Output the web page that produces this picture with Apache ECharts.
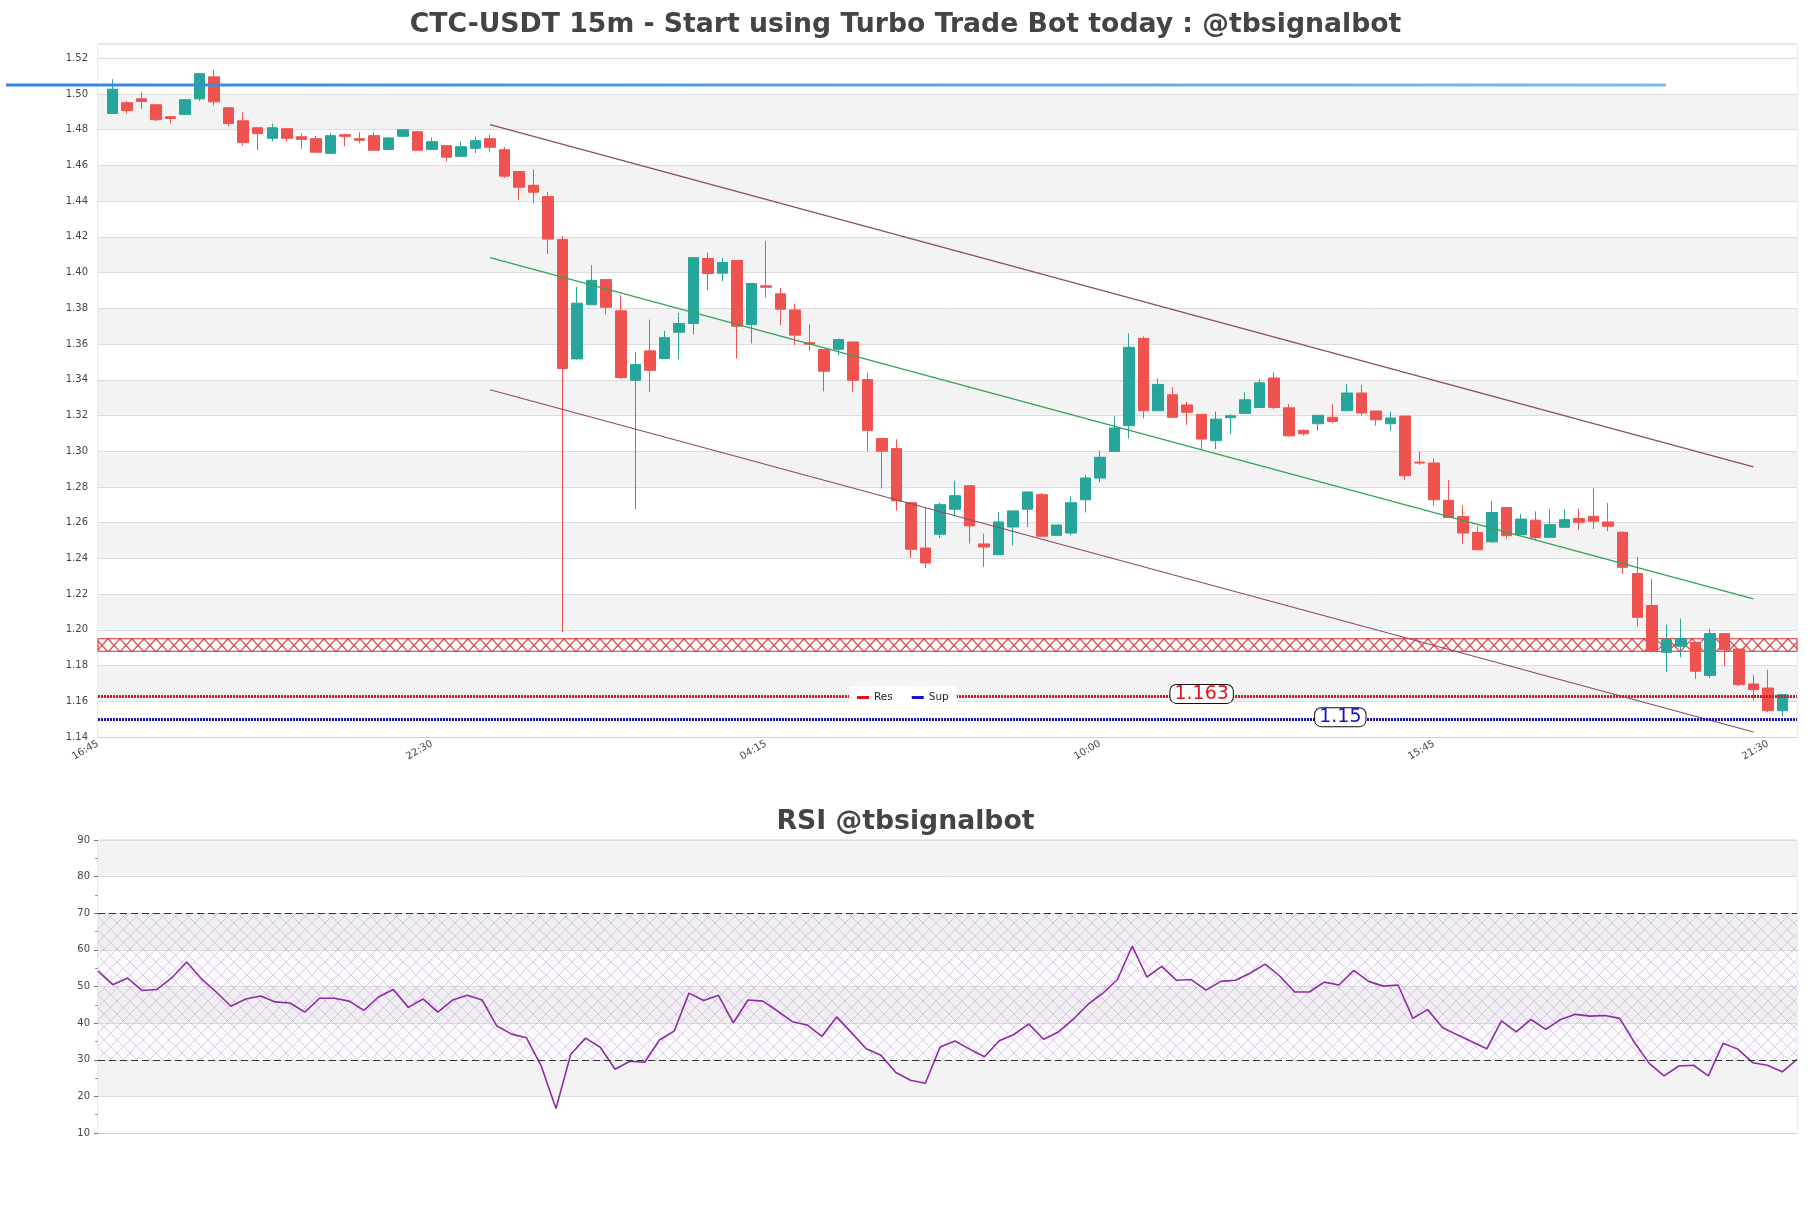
<!DOCTYPE html>
<html>
<head>
<meta charset="utf-8">
<title>CTC-USDT 15m</title>
<script src="https://cdn.jsdelivr.net/npm/echarts@6/dist/echarts.min.js"></script>
<style>
    html, body { margin: 0; padding: 0; background: #fff; }
    #chart { width: 1811px; height: 1208px; }
</style>
</head>
<body>
<div id="chart"></div>
<script>
var titleText = 'CTC-USDT 15m - Start using Turbo Trade Bot today : @tbsignalbot';
var rsiTitleText = 'RSI @tbsignalbot';

// price axis: 15m slots starting 16:45, candles sit on slots 1..116
var startTime = '16:45';
var slotCount = 118;

var opens = [1.4891, 1.4951, 1.4973, 1.4940, 1.4873, 1.4886, 1.4973, 1.5096, 1.4923, 1.4850,
    1.4811, 1.4752, 1.4806, 1.4761, 1.4750, 1.4668, 1.4772, 1.4750, 1.4767, 1.4690,
    1.4763, 1.4789, 1.4690, 1.4711, 1.4651, 1.4696, 1.4750, 1.4688, 1.4566, 1.4489,
    1.4426, 1.4186, 1.3517, 1.3820, 1.3961, 1.3786, 1.3397, 1.3562, 1.3519, 1.3666,
    1.3715, 1.4079, 1.3997, 1.4068, 1.3709, 1.3926, 1.3881, 1.3791, 1.3608, 1.3569,
    1.3571, 1.3612, 1.3401, 1.3071, 1.3015, 1.2712, 1.2458, 1.2535, 1.2675, 1.2807,
    1.2481, 1.2421, 1.2576, 1.2675, 1.2757, 1.2529, 1.2542, 1.2728, 1.2850, 1.2999,
    1.3143, 1.3632, 1.3227, 1.3316, 1.3259, 1.3206, 1.3059, 1.3188, 1.3212, 1.3245,
    1.3410, 1.3243, 1.3117, 1.3154, 1.3190, 1.3227, 1.3326, 1.3225, 1.3154, 1.3197,
    1.2939, 1.2934, 1.2725, 1.2635, 1.2545, 1.2493, 1.2685, 1.2534, 1.2614, 1.2518,
    1.2574, 1.2623, 1.2636, 1.2604, 1.2546, 1.2315, 1.2136, 1.1874, 1.1908, 1.1930,
    1.1745, 1.1979, 1.1893, 1.1697, 1.1674, 1.1547];
var closes = [1.5027, 1.4908, 1.4958, 1.4856, 1.4863, 1.4968, 1.5114, 1.4956, 1.4835, 1.4729,
    1.4778, 1.4811, 1.4752, 1.4746, 1.4674, 1.4767, 1.4763, 1.4741, 1.4685, 1.4754,
    1.4800, 1.4685, 1.4733, 1.4646, 1.4705, 1.4739, 1.4702, 1.4540, 1.4478, 1.4450,
    1.4188, 1.3463, 1.3829, 1.3957, 1.3806, 1.3412, 1.3485, 1.3453, 1.3636, 1.3715,
    1.4084, 1.3995, 1.4057, 1.3700, 1.3939, 1.3918, 1.3795, 1.3650, 1.3599, 1.3448,
    1.3625, 1.3397, 1.3117, 1.3000, 1.2722, 1.2451, 1.2374, 1.2701, 1.2751, 1.2582,
    1.2464, 1.2604, 1.2666, 1.2772, 1.2524, 1.2587, 1.2712, 1.2850, 1.2966, 1.3130,
    1.3582, 1.3227, 1.3374, 1.3190, 1.3218, 1.3068, 1.3180, 1.3199, 1.3288, 1.3383,
    1.3245, 1.3086, 1.3098, 1.3201, 1.3167, 1.3326, 1.3214, 1.3176, 1.3186, 1.2863,
    1.2934, 1.2728, 1.2628, 1.2542, 1.2448, 1.2657, 1.2527, 1.2620, 1.2516, 1.2589,
    1.2617, 1.2602, 1.2608, 1.2580, 1.2350, 1.2070, 1.1880, 1.1945, 1.1951, 1.1768,
    1.1979, 1.1889, 1.1693, 1.1665, 1.1547, 1.1637];
var lows = [1.4891, 1.4891, 1.4917, 1.4847, 1.4835, 1.4886, 1.4962, 1.4936, 1.4819, 1.4711,
    1.4685, 1.4735, 1.4735, 1.4692, 1.4674, 1.4664, 1.4707, 1.4724, 1.4685, 1.4690,
    1.4757, 1.4685, 1.4685, 1.4623, 1.4651, 1.4668, 1.4679, 1.4530, 1.4406, 1.4389,
    1.4104, 1.1987, 1.3513, 1.3820, 1.3767, 1.3405, 1.2675, 1.3332, 1.3519, 1.3515,
    1.3653, 1.3902, 1.3952, 1.3519, 1.3603, 1.3860, 1.3705, 1.3593, 1.3560, 1.3335,
    1.3537, 1.3332, 1.3000, 1.2791, 1.2669, 1.2402, 1.2346, 1.2514, 1.2641, 1.2483,
    1.2352, 1.2417, 1.2473, 1.2576, 1.2524, 1.2529, 1.2529, 1.2657, 1.2825, 1.2999,
    1.3072, 1.3184, 1.3227, 1.3190, 1.3148, 1.3012, 1.3012, 1.3098, 1.3212, 1.3245,
    1.3235, 1.3083, 1.3087, 1.3115, 1.3158, 1.3227, 1.3199, 1.3143, 1.3115, 1.2840,
    1.2924, 1.2695, 1.2628, 1.2480, 1.2448, 1.2486, 1.2512, 1.2534, 1.2504, 1.2515,
    1.2574, 1.2559, 1.2565, 1.2552, 1.2313, 1.2020, 1.1874, 1.1762, 1.1846, 1.1725,
    1.1730, 1.1796, 1.1687, 1.1605, 1.1538, 1.1516];
var highs = [1.5083, 1.4962, 1.5010, 1.4940, 1.4873, 1.4968, 1.5118, 1.5135, 1.4923, 1.4897,
    1.4811, 1.4834, 1.4811, 1.4778, 1.4765, 1.4783, 1.4778, 1.4785, 1.4785, 1.4759,
    1.4800, 1.4789, 1.4757, 1.4711, 1.4733, 1.4761, 1.4772, 1.4703, 1.4566, 1.4577,
    1.4452, 1.4205, 1.3920, 1.4041, 1.3961, 1.3874, 1.3556, 1.3737, 1.3674, 1.3775,
    1.4088, 1.4112, 1.4084, 1.4068, 1.3939, 1.4176, 1.3915, 1.3825, 1.3709, 1.3569,
    1.3631, 1.3612, 1.3440, 1.3071, 1.3067, 1.2712, 1.2686, 1.2712, 1.2833, 1.2807,
    1.2539, 1.2660, 1.2666, 1.2772, 1.2767, 1.2587, 1.2748, 1.2867, 1.3003, 1.3195,
    1.3660, 1.3643, 1.3408, 1.3358, 1.3277, 1.3206, 1.3223, 1.3208, 1.3330, 1.3402,
    1.3442, 1.3264, 1.3122, 1.3201, 1.3264, 1.3376, 1.3371, 1.3225, 1.3223, 1.3197,
    1.2999, 1.2960, 1.2839, 1.2698, 1.2579, 1.2721, 1.2685, 1.2648, 1.2663, 1.2673,
    1.2673, 1.2679, 1.2791, 1.2711, 1.2552, 1.2408, 1.2285, 1.2029, 1.2063, 1.1930,
    1.2007, 1.1979, 1.1893, 1.1749, 1.1777, 1.1637];

var rsiValues = [54.2, 50.5, 52.3, 48.9, 49.2, 52.4, 56.7, 52.1, 48.5, 44.6,
    46.6, 47.4, 45.8, 45.5, 43.0, 46.8, 46.8, 46.0, 43.5, 47.2,
    49.2, 44.3, 46.6, 43.0, 46.3, 47.6, 46.3, 39.2, 37.0, 36.0,
    28.3, 16.7, 31.5, 35.9, 33.4, 27.4, 29.6, 29.3, 35.4, 37.8,
    48.2, 46.2, 47.6, 40.1, 46.3, 46.0, 43.3, 40.4, 39.5, 36.4,
    41.7, 37.4, 33.0, 31.2, 26.5, 24.4, 23.6, 33.5, 35.1, 32.9,
    30.8, 35.2, 36.9, 39.8, 35.6, 37.6, 41.0, 45.1, 48.1, 51.9,
    61.0, 52.6, 55.5, 51.7, 51.9, 49.0, 51.4, 51.7, 53.7, 56.1,
    52.8, 48.5, 48.5, 51.2, 50.4, 54.4, 51.4, 50.1, 50.4, 41.3,
    43.7, 38.8, 36.8, 34.9, 33.0, 40.6, 37.6, 41.0, 38.3, 41.0,
    42.4, 41.9, 42.1, 41.3, 34.7, 29.0, 25.6, 28.3, 28.5, 25.6,
    34.5, 32.9, 29.2, 28.5, 26.7, 30.1];

// trend channel (slot index, price)
var channelSlots = [27, 114];
var channelUpper = [1.4829, 1.2912];
var channelMid = [1.4084, 1.2173];
var channelLower = [1.3344, 1.1428];

var topLevel = 1.505;
var resLevel = 1.163;
var supLevel = 1.15;
var resZone = [1.195, 1.188];
var rsiLevels = [70, 30];

var priceMin = 1.14, priceMax = 1.528, lastTick = 1.52;

function pad(n) {
    return n < 10 ? '0' + n : '' + n;
}

function makeTimes(start, count) {
    var p = start.split(':');
    var m0 = parseInt(p[0], 10) * 60 + parseInt(p[1], 10);
    var out = [];
    for (var i = 0; i < count; i++) {
        var t = (m0 + i * 15) % 1440;
        out.push(pad(Math.floor(t / 60)) + ':' + pad(t % 60));
    }
    return out;
}

// X shaped hatch tile
function hatchTile(w, h, stroke, lw, fill) {
    var c = document.createElement('canvas');
    c.width = w;
    c.height = h;
    var ctx = c.getContext('2d');
    if (fill) {
        ctx.fillStyle = fill;
        ctx.fillRect(0, 0, w, h);
    }
    ctx.strokeStyle = stroke;
    ctx.lineWidth = lw;
    ctx.beginPath();
    ctx.moveTo(0, 0);
    ctx.lineTo(w, h);
    ctx.moveTo(w, 0);
    ctx.lineTo(0, h);
    ctx.stroke();
    return c;
}

var slots = makeTimes(startTime, slotCount);
var candleRows = [];
for (var i = 0; i < opens.length; i++) {
    candleRows.push([i + 1, opens[i], closes[i], lows[i], highs[i]]);
}
var rsiSlots = slots.slice(1, 1 + rsiValues.length);

var redHatch = hatchTile(12, 13, '#d62728', 1.1, null);
var rsiHatch = hatchTile(13, 13, 'rgba(160,130,185,0.35)', 1, 'rgba(225,205,235,0.12)');

var axisFont = { fontFamily: 'DejaVu Sans', fontSize: 10, color: '#444' };
var titleFont = { fontFamily: 'DejaVu Sans', fontWeight: 'bold', fontSize: 26.7, color: '#444' };
var boxLabel = {
    show: true,
    position: 'inside',
    formatter: '{c}',
    fontFamily: 'DejaVu Sans',
    fontSize: 19,
    lineHeight: 18,
    backgroundColor: '#fff',
    borderColor: '#111',
    borderWidth: 1,
    borderRadius: 6,
    padding: [0, 4, 0, 4]
};

var myChart = echarts.init(document.getElementById('chart'));

var option = {
    animation: false,
    backgroundColor: '#fff',
    title: [{
        text: titleText,
        left: 'center',
        top: 7,
        textStyle: titleFont
    }, {
        text: rsiTitleText,
        left: 'center',
        top: 804,
        textStyle: titleFont
    }],
    legend: {
        data: ['Res', 'Sup'],
        left: 849,
        top: 686,
        z: 20,
        icon: 'rect',
        itemWidth: 12,
        itemHeight: 3,
        itemGap: 19,
        padding: [6, 8, 6, 8],
        backgroundColor: '#fff',
        borderRadius: 3,
        textStyle: { fontFamily: 'DejaVu Sans', fontSize: 10.5, color: '#222' }
    },
    grid: [{
        left: 98, right: 14, top: 44, height: 693,
        show: true, borderColor: '#d6d6d6', borderWidth: 1
    }, {
        left: 6, right: 145, top: 44, height: 693
    }, {
        left: 98, right: 14, top: 840, height: 293,
        show: true, borderColor: '#d6d6d6', borderWidth: 1
    }],
    xAxis: [{
        type: 'category',
        gridIndex: 0,
        data: slots,
        boundaryGap: false,
        axisLine: { lineStyle: { color: '#cfcfcf' } },
        axisTick: { show: false },
        axisLabel: Object.assign({ interval: 22, rotate: 30, margin: 6 }, axisFont),
        splitLine: { show: false }
    }, {
        type: 'value',
        gridIndex: 1,
        min: 0,
        max: 1,
        show: false
    }, {
        type: 'category',
        gridIndex: 2,
        data: rsiSlots,
        boundaryGap: false,
        axisLine: { lineStyle: { color: '#cfcfcf' } },
        axisTick: { show: false },
        axisLabel: { show: false },
        splitLine: { show: false }
    }],
    yAxis: [{
        type: 'value',
        gridIndex: 0,
        min: priceMin,
        max: priceMax,
        interval: 0.02,
        axisLine: { show: false },
        axisTick: { show: false },
        axisLabel: Object.assign({
            margin: 10,
            showMaxLabel: false,
            formatter: function (v) { return v.toFixed(2); }
        }, axisFont),
        splitLine: { lineStyle: { color: '#dcdcdc' } },
        splitArea: { show: true, areaStyle: { color: ['#ffffff', '#f3f3f3'] } }
    }, {
        type: 'value',
        gridIndex: 1,
        min: priceMin,
        max: priceMax,
        show: false
    }, {
        type: 'value',
        gridIndex: 2,
        min: 10,
        max: 90,
        interval: 10,
        axisLine: { show: false },
        axisTick: { show: true, length: 4, lineStyle: { color: '#777' } },
        minorTick: { show: true, splitNumber: 2, length: 3, lineStyle: { color: '#999' } },
        axisLabel: Object.assign({ margin: 8 }, axisFont),
        splitLine: { lineStyle: { color: '#dcdcdc' } },
        splitArea: { show: true, areaStyle: { color: ['#ffffff', '#f3f3f3'] } }
    }],
    series: [{
        type: 'candlestick',
        name: 'CTC-USDT',
        xAxisIndex: 0,
        yAxisIndex: 0,
        data: candleRows,
        encode: { x: 0, y: [1, 2, 3, 4] },
        barWidth: 11,
        z: 3,
        itemStyle: {
            color: '#26a69a',
            color0: '#ef5350',
            borderColor: '#26a69a',
            borderColor0: '#ef5350',
            borderColorDoji: '#ef5350',
            borderWidth: 1
        },
        // keep the thin strip above the last tick plain white
        markArea: {
            silent: true,
            itemStyle: { color: '#fff' },
            data: [[{ yAxis: lastTick + 0.0004 }, { yAxis: priceMax - 0.0004 }]]
        }
    }, {
        type: 'line',
        name: 'upper',
        xAxisIndex: 0,
        yAxisIndex: 0,
        data: [[channelSlots[0], channelUpper[0]], [channelSlots[1], channelUpper[1]]],
        symbol: 'none',
        silent: true,
        z: 4,
        lineStyle: { color: '#8d4b62', width: 1.2 }
    }, {
        type: 'line',
        name: 'mid',
        xAxisIndex: 0,
        yAxisIndex: 0,
        data: [[channelSlots[0], channelMid[0]], [channelSlots[1], channelMid[1]]],
        symbol: 'none',
        silent: true,
        z: 4,
        lineStyle: { color: '#35a05a', width: 1.2 }
    }, {
        type: 'line',
        name: 'lower',
        xAxisIndex: 0,
        yAxisIndex: 0,
        data: [[channelSlots[0], channelLower[0]], [channelSlots[1], channelLower[1]]],
        symbol: 'none',
        silent: true,
        z: 4,
        lineStyle: { color: '#8d4b62', width: 1.2 }
    }, {
        type: 'line',
        name: 'Res',
        xAxisIndex: 0,
        yAxisIndex: 0,
        data: [],
        color: '#e0141c',
        z: 5,
        markArea: {
            silent: true,
            itemStyle: {
                color: { image: redHatch, repeat: 'repeat' },
                borderColor: '#d62728',
                borderWidth: 1
            },
            data: [[{ yAxis: resZone[0] }, { yAxis: resZone[1] }]]
        },
        markLine: {
            silent: true,
            symbol: 'none',
            precision: 4,
            label: { show: false },
            lineStyle: { color: '#e0141c', type: [2, 1], width: 3 },
            data: [{ yAxis: resLevel }]
        },
        markPoint: {
            silent: true,
            symbol: 'rect',
            symbolSize: 0,
            label: Object.assign({ color: '#e0141c', offset: [0, -2] }, boxLabel),
            data: [{ coord: [76, resLevel], value: resLevel }]
        }
    }, {
        type: 'line',
        name: 'Sup',
        xAxisIndex: 0,
        yAxisIndex: 0,
        data: [],
        color: '#1414c8',
        z: 5,
        markLine: {
            silent: true,
            symbol: 'none',
            precision: 4,
            label: { show: false },
            lineStyle: { color: '#1414c8', type: [2, 1], width: 3 },
            data: [{ yAxis: supLevel }]
        },
        markPoint: {
            silent: true,
            symbol: 'rect',
            symbolSize: 0,
            label: Object.assign({ color: '#1414c8', offset: [8, -2] }, boxLabel),
            data: [{ coord: [85, supLevel], value: supLevel }]
        }
    }, {
        type: 'line',
        name: 'top',
        xAxisIndex: 1,
        yAxisIndex: 1,
        data: [[0, topLevel], [1, topLevel]],
        symbol: 'none',
        silent: true,
        z: 6,
        lineStyle: {
            width: 3,
            color: new echarts.graphic.LinearGradient(0, 0, 1, 0, [
                { offset: 0, color: '#2f86dc' },
                { offset: 1, color: '#7dbdf3' }
            ])
        }
    }, {
        type: 'line',
        name: 'RSI',
        xAxisIndex: 2,
        yAxisIndex: 2,
        data: rsiValues,
        symbol: 'none',
        z: 4,
        lineStyle: { color: '#8e2ba5', width: 1.6 },
        markArea: {
            silent: true,
            itemStyle: { color: { image: rsiHatch, repeat: 'repeat' } },
            data: [[{ yAxis: rsiLevels[0] }, { yAxis: rsiLevels[1] }]]
        },
        markLine: {
            silent: true,
            symbol: 'none',
            label: { show: false },
            lineStyle: { color: '#333', type: [7, 4], width: 1.2 },
            data: [{ yAxis: rsiLevels[0] }, { yAxis: rsiLevels[1] }]
        }
    }]
};

myChart.setOption(option);

// line the hatch tiles up with the top of the resistance zone
var zoneTop = myChart.convertToPixel({ yAxisIndex: 0 }, resZone[0]);
myChart.setOption({
    series: [{}, {}, {}, {}, {
        markArea: {
            itemStyle: {
                color: { image: redHatch, repeat: 'repeat', y: zoneTop }
            }
        }
    }]
});
</script>
</body>
</html>
